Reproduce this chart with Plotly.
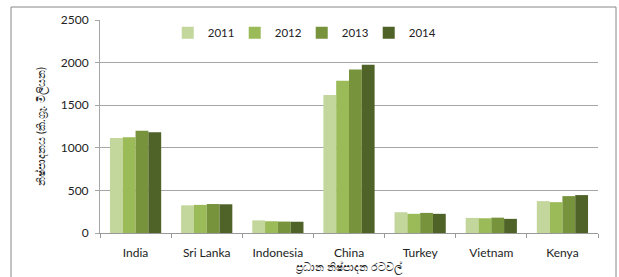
import plotly.graph_objects as go

countries = ["India", "Sri Lanka", "Indonesia", "China", "Turkey", "Vietnam", "Kenya"]
years = ["2011", "2012", "2013", "2014"]
v2011 = [1115, 325, 148, 1620, 244, 177, 374]
v2012 = [1125, 330, 138, 1787, 225, 173, 362]
v2013 = [1200, 340, 134, 1920, 236, 180, 433]
v2014 = [1182, 337, 132, 1976, 225, 166, 445]
series = [v2011, v2012, v2013, v2014]
colors = ["#c3d69b", "#9bbb59", "#77933c", "#4f6228"]
y_ticks = [0, 500, 1000, 1500, 2000, 2500]

fig = go.Figure()
for yr, vals, c in zip(years, series, colors):
    fig.add_trace(go.Bar(name=yr, x=countries, y=vals, marker=dict(color=c, line=dict(width=0))))

font = "Lato, Noto Sans, sans-serif"
fig.update_layout(
    width=619, height=277,
    margin=dict(l=100, r=21, t=20, b=44, autoexpand=False),
    paper_bgcolor="white", plot_bgcolor="white",
    barmode="group", bargap=0.28, bargroupgap=0,
    font=dict(family=font, size=12, color="#222"),
    showlegend=True,
    legend=dict(orientation="h", x=0.136, y=0.94, xanchor="left", yanchor="middle",
                itemwidth=30, entrywidth=22, entrywidthmode="pixels", font=dict(size=11.5),
                bgcolor="rgba(0,0,0,0)"),
    xaxis=dict(showline=True, linecolor="#999", ticks="outside", tickcolor="#999", ticklen=4,
               tickson="boundaries", tickfont=dict(size=12), automargin=False, ticklabelstandoff=9,
               title=dict(text="ප්‍රධාන නිෂ්පාදන රටවල්", font=dict(size=11), standoff=1)),
    yaxis=dict(range=[0, 2500], tickvals=y_ticks, showgrid=True, gridcolor="#a6a6a6", gridwidth=1,
               showline=True, linecolor="#a6a6a6", ticks="outside", tickcolor="#a6a6a6", ticklen=4,
               zeroline=False, tickfont=dict(size=12), automargin=False, ticklabelstandoff=4,
               title=dict(text="නිෂ්පාදනය (කි.ග්‍රෑ. මිලියන)", font=dict(size=11), standoff=12)),
    shapes=[dict(type="rect", xref="paper", yref="paper",
                 x0=(11 - 100) / 498, x1=(616 - 100) / 498,
                 y0=-0.3, y1=(233 - 7) / 213,
                 line=dict(color="#888", width=1), fillcolor="rgba(0,0,0,0)", layer="below")],
)

fig.write_html("out.html", config={"displayModeBar": False},
               post_script="document.body.style.margin='0';document.body.style.overflow='hidden';")
